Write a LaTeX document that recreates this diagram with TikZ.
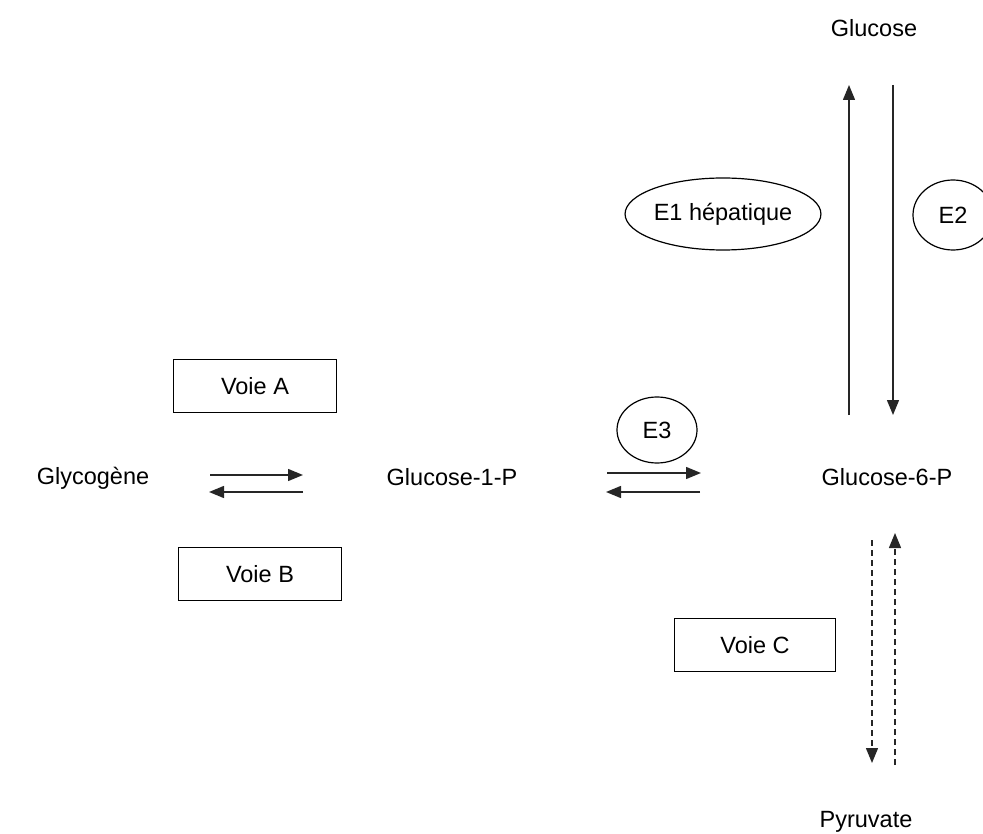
\documentclass[tikz,border=0pt]{standalone}
\usepackage{fontspec}
\setmainfont{Liberation Sans}
\usetikzlibrary{arrows.meta,shapes.geometric}
\begin{document}
\begin{tikzpicture}[x=1pt,y=-1pt,
  lbl/.style={inner sep=0pt,font=\fontsize{23.5}{28}\selectfont},
  boxnode/.style={draw,line width=1.2pt,minimum width=163pt,minimum height=53pt,font=\fontsize{23.5}{28}\selectfont},
  enz/.style={draw,ellipse,line width=1.2pt,inner sep=0pt,font=\fontsize{23.5}{28}\selectfont},
  arr/.style={line width=1.4pt,draw=black!85,-{Triangle[length=15pt,width=12pt]}},
  darr/.style={arr,dash pattern=on 6pt off 4pt}]
\useasboundingbox (0,0) rectangle (983,834);
\node[lbl] (glycogen) at (93,478) {Glycogène};
\node[lbl] (g1p) at (452,477) {Glucose-1-P};
\node[lbl] (g6p) at (887,477) {Glucose-6-P};
\node[lbl] (glc) at (874,28) {Glucose};
\node[lbl] (pyr) at (866,822) {Pyruvate};
\node[boxnode] (va) at (255,386) {Voie A};
\node[boxnode] (vb) at (260,574) {Voie B};
\node[boxnode,minimum width=161pt] (vc) at (755,645) {Voie C};
\node[enz,minimum width=187pt,minimum height=72pt] (e1) at (723,214) {E1 hépatique};
\node[enz,minimum width=80pt,minimum height=70pt] (e2) at (953,215) {E2};
\node[enz,minimum width=80pt,minimum height=66pt] (e3) at (657,430) {E3};
% coordinates for arrow ends
\coordinate (a1s) at (210,475); \coordinate (a1e) at (303,475);
\coordinate (a2s) at (303,492); \coordinate (a2e) at (209,492);
\coordinate (b1s) at (607,473); \coordinate (b1e) at (701,473);
\coordinate (b2s) at (700,492); \coordinate (b2e) at (606,492);
\coordinate (c1s) at (849,415); \coordinate (c1e) at (849,85);
\coordinate (c2s) at (893,85); \coordinate (c2e) at (893,415);
\coordinate (d1s) at (872,540); \coordinate (d1e) at (872,763);
\coordinate (d2s) at (895,765); \coordinate (d2e) at (895,533);
\draw[arr] (a1s) -- (a1e);
\draw[arr] (a2s) -- (a2e);
\draw[arr] (b1s) -- (b1e);
\draw[arr] (b2s) -- (b2e);
\draw[arr] (c1s) -- (c1e);
\draw[arr] (c2s) -- (c2e);
\draw[darr] (d1s) -- (d1e);
\draw[darr] (d2s) -- (d2e);
\end{tikzpicture}
\end{document}
